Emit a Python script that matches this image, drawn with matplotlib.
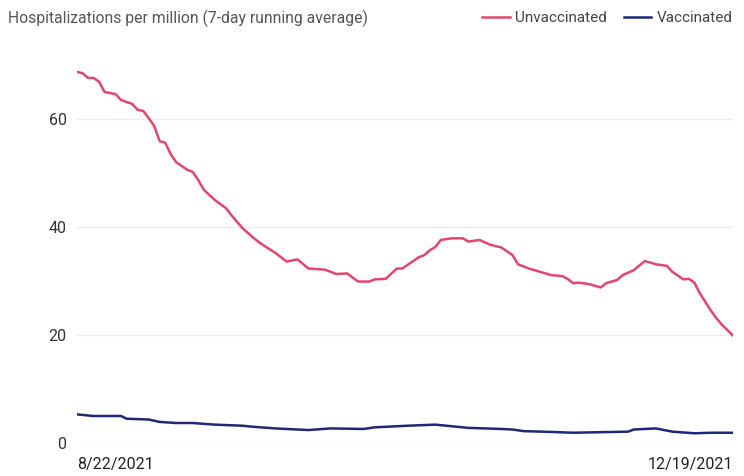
import matplotlib
matplotlib.use("Agg")
import matplotlib.pyplot as plt
import pandas as pd

START = pd.Timestamp("2021-08-22")
END = pd.Timestamp("2021-12-19")

# days after 8/22/2021
unvax_days = [0, 1, 2, 3, 4, 5, 7, 8, 10, 11, 12, 13, 14, 15, 16, 17, 18, 20, 21, 22,
              23, 25, 27, 28, 30, 32, 33, 34, 36, 38, 40, 42, 45, 47, 49, 51, 53, 54,
              56, 58, 59, 62, 63, 64, 65, 66, 68, 70, 71, 73, 75, 77, 79, 80, 82, 84,
              86, 88, 89, 90, 91, 93, 95, 96, 98, 99, 101, 103, 105, 107, 108, 110,
              111, 112, 113, 115, 116, 117, 119]
unvax_values = [68.7, 68.5, 67.6, 67.6, 66.9, 65.0, 64.6, 63.5, 62.8, 61.7, 61.5, 60.2,
                58.7, 55.9, 55.6, 53.5, 52.0, 50.6, 50.2, 48.7, 46.9, 45.0, 43.5, 42.2,
                39.8, 38.0, 37.2, 36.5, 35.2, 33.6, 34.0, 32.3, 32.1, 31.3, 31.4, 29.9,
                29.9, 30.3, 30.4, 32.3, 32.3, 34.4, 34.8, 35.7, 36.3, 37.6, 37.9, 37.9,
                37.3, 37.6, 36.7, 36.2, 34.8, 33.1, 32.3, 31.7, 31.1, 30.9, 30.4, 29.6,
                29.7, 29.4, 28.8, 29.6, 30.2, 31.1, 32.0, 33.7, 33.1, 32.8, 31.7, 30.3,
                30.4, 29.7, 27.7, 24.5, 23.1, 21.9, 19.9]

vax_days = [0, 3, 8, 9, 13, 15, 18, 21, 25, 30, 32, 36, 42, 46, 52, 54, 60, 65, 66,
            71, 77, 79, 81, 86, 90, 95, 100, 101, 105, 106, 108, 112, 115, 119]
vax_values = [5.3, 5.0, 5.0, 4.5, 4.35, 3.9, 3.7, 3.7, 3.4, 3.2, 3.0, 2.7, 2.4, 2.7,
              2.6, 2.9, 3.2, 3.4, 3.3, 2.8, 2.6, 2.5, 2.2, 2.05, 1.9, 2.0, 2.1, 2.5,
              2.7, 2.5, 2.1, 1.8, 1.9, 1.9]

UNVAX_COLOR = "#e2466c"
VAX_COLOR = "#1f2779"

plt.rcParams["font.family"] = ["Roboto", "DejaVu Sans"]

fig = plt.figure(figsize=(7.44, 4.76), dpi=100)
ax = fig.add_axes([77 / 744, 1 - 443 / 476, 656 / 744, 388.8 / 476])

unvax_dates = START + pd.to_timedelta(unvax_days, unit="D")
vax_dates = START + pd.to_timedelta(vax_days, unit="D")
ax.plot(unvax_dates, unvax_values, color=UNVAX_COLOR, linewidth=1.8, label="Unvaccinated")
ax.plot(vax_dates, vax_values, color=VAX_COLOR, linewidth=1.8, label="Vaccinated")

ax.set_xlim(START, END)
ax.set_ylim(0, 72)
ax.set_yticks([0, 20, 40, 60])
ax.yaxis.grid(True, color="#ededed", linewidth=1.0)
ax.set_axisbelow(True)
for spine in ax.spines.values():
    spine.set_visible(False)
ax.tick_params(axis="y", length=0, pad=7.5, labelsize=11.5, labelcolor="#333333")

ax.set_xticks([START, END])
ax.set_xticklabels(["8/22/2021", "12/19/2021"])
ax.tick_params(axis="x", length=0, pad=10, labelsize=11.5, labelcolor="#222222")
labels = ax.get_xticklabels()
labels[0].set_ha("left")
labels[1].set_ha("right")

fig.text(8 / 744, 1 - 18 / 476, "Hospitalizations per million (7-day running average)",
         fontsize=11.3, color="#555555", va="center", ha="left")

fig.legend(loc="center right", bbox_to_anchor=(738.5 / 744, 1 - 18 / 476), ncol=2,
           frameon=False, fontsize=11.0, handlelength=1.8, handletextpad=0.35,
           columnspacing=1.1, labelcolor="#444444", borderaxespad=0)

fig.savefig("out.png", dpi=100)
